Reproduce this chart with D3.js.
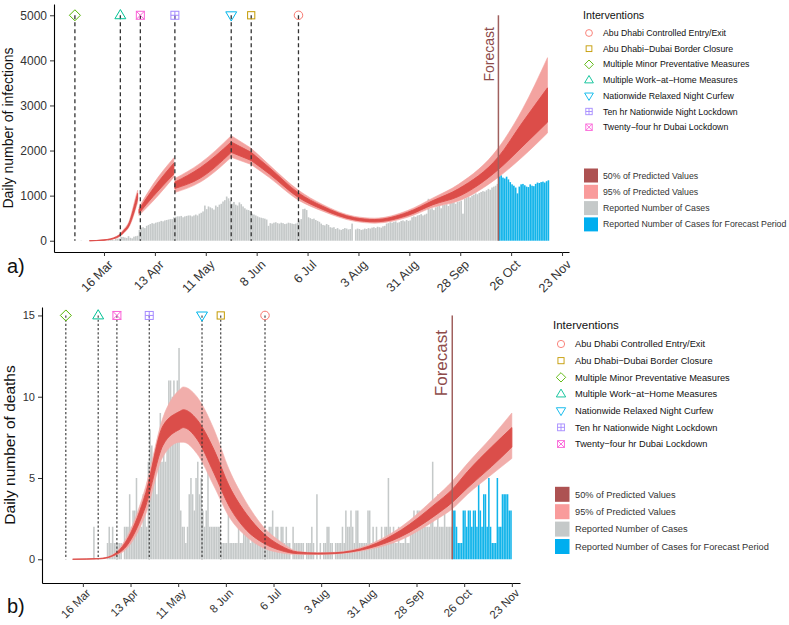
<!DOCTYPE html>
<html><head><meta charset="utf-8">
<script src="https://cdn.jsdelivr.net/npm/d3@7"></script>
<style>
body{margin:0;background:#fff}
svg{display:block}
text{font-family:"Liberation Sans",Arial,Helvetica,sans-serif}
</style></head>
<body><svg id="chart" width="789" height="625"></svg>
<script>
// ---------------- DATA ----------------
const interventionNames = ["Abu Dhabi Controlled Entry/Exit","Abu Dhabi\u2212Dubai Border Closure","Multiple Minor Preventative Measures","Multiple Work\u2212at\u2212Home Measures","Nationwide Relaxed Night Curfew","Ten hr Nationwide Night Lockdown","Twenty\u2212four hr Dubai Lockdown"];
const interventionColors = ["#F8766D","#C49A00","#53B400","#00C094","#00B6EB","#A58AFF","#FB61D7"];
const interventionShapes = ["circle","square","diamond","triangle","triangleDown","squarePlus","squareX"];
const interventionDatesA = ["2020-07-01","2020-06-05","2020-02-29","2020-03-25","2020-05-25","2020-04-24","2020-04-05"];
const interventionDatesB = ["2020-07-01","2020-06-05","2020-03-06","2020-03-25","2020-05-25","2020-04-24","2020-04-05"];

const fillLegendLabels = ["50% of Predicted Values","95% of Predicted Values","Reported Number of Cases","Reported Number of Cases for Forecast Period"];
const fillLegendColors = ["#ad5252","#f99b9b","#c5c9c9","#00aeef"];

const tickDates = ["2020-03-16","2020-04-13","2020-05-11","2020-06-08","2020-07-06","2020-08-03","2020-08-31","2020-09-28","2020-10-26","2020-11-23"];
const tickLabels = ["16 Mar","13 Apr","11 May","8 Jun","6 Jul","3 Aug","31 Aug","28 Sep","26 Oct","23 Nov"];
const infYTicks = [0,1000,2000,3000,4000,5000];
const deathYTicks = [0,5,10,15];

const forecastDate = "2020-10-19";

// daily reported cases starting 1 Mar 2020
const casesStart = "2020-03-01";
const dailyCases = [
 0,0,6,0,0,2,1,15,0,0, 15,0,11,0,14,12,0,15,27,27, 13,45,45,50,85,85,72,63,102,65,53,
 90,100,110,240, 290,300,280,330,350,370,390,380, 400,410,420,440,430,450,460,470,480,480, 520,530,540,540,550,520,540,550,
 560,560,540,560,580,560,600,620,650, 780,700,760,740,720,690,780,750,800,820,870,900,980, 940,880,820,860,800,780,850,810,760,
 720,690,680,660,600, 580,560,540,520,510,500,490,470, 330, 390,380,400,410,390,380,400,390,370,380,400,390,380,370,380,400,
 450,480, 700,710,680, 520,500,480,490,460,440,420, 380,350,340,370,350,300,290,300, 260,280,250,240,260,280,270,250,260,380,0,
 250,270,260,240,250,270,260,280,270,290,300,280,310,300,290,320,330, 380,390,410,400,420,430,400,410,440,450,430,460,440,450,
 520,540,530,560,570,590,560,580,600, 930, 700,720,680,740,760,780,720,790,800,810,770,830,840,850,820,860,870,890, 600, 930,
 950,980,960,1000,1020,1050,1030,1060,1080,1100,1090,1120,1150,1130,1180,1200,1220,1260, 1500,1450,1400,1380,1420,1360,1300,1250,1220,1180,1050,1200,1250,
 1260,1230,1200,1190,1250,1220,1210,1260,1290,1280,1300,1310,1290,1320,1340
];

// daily reported deaths starting 22 Mar 2020
const deathsStart = "2020-03-22";
const dailyDeaths = [
 2, 0,0,0,0,0,0,0,
 1,2,1,2,1,1,1,1,1,0,
 2,2,2,4,2,3,3,5,2,3,2,4,3,2,
 6,8,7,5,6,4,6,9,6,7,6,7,
 11,11,10,11,10,11,13,3,2,2,1,2,
 4,5,4,3,5,6,4,5,3,2,3,6,
 2,2,2,2,2,2,2,1,1,1,1,5,
 1,1,1,1,1,2,1,1,2,3,3,2,1,2,
 2,1,2,2,1,1,2,1,1,2,2,3,
 1,2,2,1,2,2,1,2,1,1,0,2,
 1,1,1,1,1,1,0,1,1,1,2,1,0,4,
 0,1,0,1,1,2,2,1,1,0,1,1,1,1,
 2,1,3,2,2,3,2,1,3,3,1,1,1,1,1,
 3,3,1,2,1,2,1,1,2,1,2,2,5,
 2,1,2,1,1,2,1,1,1,2,1,1,2,2,
 3,2,3,3,2,3,2,2,2,2,3,6,
 2,2,4,2,2,2,3,2,2,2,2,
 3,3,2,1,1,1,3,3,2,3,3,2,
 3,3,2,6,3,2,4,4,2,5,2,1,
 1,1,5,2,2,4,4,4,4,3,3
];

// predicted infections (bands), with model segments
const infDates = ["2020-03-08","2020-03-16","2020-03-23","2020-03-27","2020-03-30","2020-04-01","2020-04-02","2020-04-03T12:00","2020-04-04T06:00","2020-04-12","2020-04-23T10:00","2020-04-24","2020-05-08","2020-05-25","2020-06-05","2020-06-15","2020-07-01","2020-07-14","2020-08-01","2020-08-12","2020-08-30","2020-09-13","2020-09-27","2020-10-19","2020-11-01","2020-11-15"];
const infLo95 = [0,10,60,170,320,520,650,850,560,880,1410,1070,1300,1850,1690,1400,900,660,430,390,520,740,880,1410,1850,2390];
const infLo50 = [0,12,70,190,350,570,700,930,610,980,1480,1160,1390,1960,1780,1480,960,700,460,420,560,800,980,1580,2080,2630];
const infHi50 = [0,18,90,230,410,670,820,1050,690,1150,1720,1300,1620,2190,1960,1620,1060,770,510,470,630,890,1150,1860,2610,3390];
const infHi95 = [0,20,100,260,450,740,900,1120,740,1250,1840,1380,1720,2330,2050,1680,1120,810,540,500,670,950,1250,2060,2900,4060];
const infSegments = [[0,7],[8,10],[11,13],[13,14],[14,25]];

// predicted deaths (bands)
const deathDates = ["2020-03-10","2020-03-26","2020-04-02","2020-04-12","2020-04-22","2020-05-02","2020-05-12","2020-05-14","2020-05-22","2020-06-01","2020-06-10","2020-06-20","2020-06-30","2020-07-10","2020-07-20","2020-08-01","2020-08-11","2020-08-31","2020-09-19","2020-10-09","2020-10-19","2020-10-28","2020-11-11","2020-11-23"];
const deathLo95 = [0,0.02,0.15,0.8,2.8,6.3,7.2,7.2,6.5,4.5,2.6,1.4,0.7,0.4,0.3,0.3,0.33,0.6,1.2,2.4,3.1,4.0,5.2,6.2];
const deathLo50 = [0,0.03,0.18,1.0,3.3,7.0,8.0,8.1,7.4,5.3,3.25,1.8,1.0,0.55,0.35,0.32,0.35,0.68,1.4,2.7,3.5,4.4,5.7,6.9];
const deathHi50 = [0,0.05,0.22,1.4,4.1,8.2,9.1,9.2,8.6,6.75,4.5,2.8,1.6,0.85,0.45,0.38,0.4,0.8,1.8,3.4,4.3,5.4,6.9,8.1];
const deathHi95 = [0,0.06,0.26,1.6,4.5,8.7,10.45,10.6,10.0,8.0,5.5,3.5,2.0,1.1,0.5,0.4,0.43,0.9,2.0,3.8,4.8,5.9,7.5,9.0];

// ---------------- DRAWING ----------------
const DAY = 864e5;
const pd = s => new Date((s.length > 10 ? s : s + "T00:00") + "Z");
const svg = d3.select("#chart");

function shapePath(shape, s) {
  const h = s / 2;
  switch (shape) {
    case "diamond": return `M0,${-h*1.1}L${h*1.1},0L0,${h*1.1}L${-h*1.1},0Z`;
    case "triangle": { const r = h*1.15; return `M0,${-r}L${r*0.95},${r*0.6}L${-r*0.95},${r*0.6}Z`; }
    case "triangleDown": { const r = h*1.15; return `M0,${r}L${r*0.95},${-r*0.6}L${-r*0.95},${-r*0.6}Z`; }
    default: return null;
  }
}
function drawMarker(g, shape, color, s, sw) {
  const h = s / 2;
  const st = {fill:"none", stroke:color, "stroke-width":sw};
  const app = (el, attrs) => { Object.entries(Object.assign({}, st, attrs)).forEach(([k,v]) => el.attr(k,v)); return el; };
  if (shape === "circle") app(g.append("circle"), {r: h*0.85});
  else if (shape === "square") app(g.append("rect"), {x:-h*0.72, y:-h*0.72, width:h*1.44, height:h*1.44});
  else if (shape === "squarePlus" || shape === "squareX") {
    const q = h*0.8;
    app(g.append("rect"), {x:-q, y:-q, width:2*q, height:2*q});
    if (shape === "squarePlus") app(g.append("path"), {d:`M0,${-q}V${q}M${-q},0H${q}`});
    else app(g.append("path"), {d:`M${-q},${-q}L${q},${q}M${q},${-q}L${-q},${q}`});
  } else app(g.append("path"), {d: shapePath(shape, s)});
}

function panel(cfg) {
  const x = d3.scaleUtc().domain(cfg.xDomain).range(cfg.xRange);
  const y = d3.scaleLinear().domain(cfg.yDomain).range(cfg.yRange);
  const g = svg.append("g");

  // bars
  const start = pd(cfg.barStart), fc = pd(forecastDate);
  const bars = cfg.bars.map((v, i) => ({d: new Date(start.getTime() + i*DAY), v}));
  g.append("g").selectAll("rect").data(bars).join("rect")
    .attr("x", d => x(new Date(d.d.getTime() + 0.05*DAY)))
    .attr("width", d => x(new Date(d.d.getTime() + 0.95*DAY)) - x(new Date(d.d.getTime() + 0.05*DAY)))
    .attr("y", d => y(d.v))
    .attr("height", d => Math.max(0, y(0) - y(d.v)))
    .attr("fill", d => d.d >= fc ? cfg.blue : cfg.grey);

  // bands
  const pts = cfg.bandDates.map((s, i) => ({d: pd(s), lo95: cfg.lo95[i], lo50: cfg.lo50[i], hi50: cfg.hi50[i], hi95: cfg.hi95[i]}));
  const a95 = d3.area().x(d => x(d.d)).y0(d => y(d.lo95)).y1(d => y(d.hi95)).curve(d3.curveMonotoneX);
  const a50 = d3.area().x(d => x(d.d)).y0(d => y(d.lo50)).y1(d => y(d.hi50)).curve(d3.curveMonotoneX);
  cfg.segments.forEach(([i0, i1]) => {
    const seg = pts.slice(i0, i1 + 1);
    g.append("path").attr("d", a95(seg)).attr("fill", cfg.c95).attr("stroke", cfg.c95).attr("stroke-width", 0.6);
  });
  cfg.segments.forEach(([i0, i1]) => {
    const seg = pts.slice(i0, i1 + 1);
    g.append("path").attr("d", a50(seg)).attr("fill", cfg.c50).attr("stroke", cfg.c50).attr("stroke-width", 0.9);
  });

  // intervention lines + markers
  const top = cfg.yTicks[cfg.yTicks.length - 1];
  cfg.interventionDates.forEach((s, i) => {
    const xx = x(pd(s));
    g.append("line").attr("x1", xx).attr("x2", xx).attr("y1", y(top)).attr("y2", y(0))
      .attr("stroke", "#333").attr("stroke-width", cfg.dashW).attr("stroke-dasharray", cfg.dash);
  });
  cfg.interventionDates.forEach((s, i) => {
    const m = g.append("g").attr("transform", `translate(${x(pd(s))},${y(top)})`);
    drawMarker(m, interventionShapes[i], interventionColors[i], cfg.markerSize, 1);
  });

  // forecast line + label
  const fx = x(fc);
  g.append("line").attr("x1", fx).attr("x2", fx).attr("y1", y(top)).attr("y2", y(0))
    .attr("stroke", "#a0605e").attr("stroke-width", 1.5);
  g.append("text").attr("transform", `translate(${fx - cfg.fcOffset},${cfg.fcTextY}) rotate(-90)`)
    .attr("text-anchor", "end").attr("font-size", cfg.fcSize).attr("fill", "#8e4b4a").text("Forecast");

  // axes
  const xa = g.append("g").attr("transform", `translate(0,${cfg.yRange[0]})`)
    .call(d3.axisBottom(x).tickValues(tickDates.map(pd)).tickFormat((d, i) => tickLabels[i]).tickSize(4).tickSizeOuter(0));
  xa.select(".domain").attr("stroke", "#000").attr("stroke-width", 1.1);
  xa.selectAll(".tick line").attr("stroke", "#333");
  xa.selectAll(".tick text").attr("font-size", cfg.xtSize).attr("fill", "#333")
    .attr("text-anchor", "end").attr("dy", "0.71em").attr("y", 0)
    .attr("transform", `translate(${cfg.xtDx},${cfg.xtDy}) rotate(-45)`);
  const ya = g.append("g").attr("transform", `translate(${cfg.xRange[0]},0)`)
    .call(d3.axisLeft(y).tickValues(cfg.yTicks).tickFormat(d3.format("d")).tickSize(4).tickSizeOuter(0).tickPadding(3));
  ya.select(".domain").attr("stroke", "#000").attr("stroke-width", 1.1);
  ya.selectAll(".tick line").attr("stroke", "#333");
  ya.selectAll(".tick text").attr("font-size", cfg.ytSize).attr("fill", "#333");

  // axis title + panel letter
  g.append("text").attr("transform", `translate(${cfg.ytitleX},${(cfg.yRange[0] + cfg.yRange[1]) / 2}) rotate(-90)`)
    .attr("text-anchor", "middle").attr("font-size", cfg.ytitleSize).attr("fill", "#111").text(cfg.ytitle);
  g.append("text").attr("x", 7).attr("y", cfg.letterY).attr("font-size", 20).attr("fill", "#111").text(cfg.letter);

  // legend
  const L = cfg.legend;
  const lg = svg.append("g");
  lg.append("text").attr("x", L.titleX).attr("y", L.titleY).attr("font-size", L.titleSize).attr("fill", "#111").text("Interventions");
  interventionNames.forEach((n, i) => {
    const yy = L.rowY0 + i * L.rowStep;
    const m = lg.append("g").attr("transform", `translate(${L.symX},${yy})`);
    drawMarker(m, interventionShapes[i], interventionColors[i], L.symSize, 0.9);
    lg.append("text").attr("x", L.textX).attr("y", yy).attr("dy", "0.35em").attr("font-size", L.textSize).attr("fill", "#111").text(n);
  });
  fillLegendLabels.forEach((n, i) => {
    const yy = L.fillY0 + i * L.fillStep;
    lg.append("rect").attr("x", L.rectX).attr("y", yy - L.rectH / 2).attr("width", L.rectW).attr("height", L.rectH).attr("fill", fillLegendColors[i]);
    lg.append("text").attr("x", L.textX).attr("y", yy).attr("dy", "0.35em").attr("font-size", L.textSize).attr("fill", "#333").text(n);
  });
}

panel({
  xDomain: [pd("2020-02-17T12:00"), pd("2020-11-26T20:00")], xRange: [54, 569],
  yDomain: [-250, 5250], yRange: [252, 4], yTicks: infYTicks,
  bars: dailyCases, barStart: casesStart, grey: "#c5c9c9", blue: "#12b4ea",
  bandDates: infDates, lo95: infLo95, lo50: infLo50, hi50: infHi50, hi95: infHi95, segments: infSegments,
  c95: "#f3a3a0", c50: "#dc4d49",
  interventionDates: interventionDatesA, dash: "4,3", dashW: 1.3, markerSize: 10,
  fcOffset: 4, fcTextY: 27, fcSize: 14,
  xtSize: 12.5, xtDx: 3, xtDy: 7, ytSize: 12, ytitle: "Daily number of infections", ytitleX: 13, ytitleSize: 14,
  letter: "a)", letterY: 273,
  legend: {titleX: 583, titleY: 19, titleSize: 10.7, rowY0: 33, rowStep: 15.7, symX: 589, symSize: 8, textX: 603, textSize: 8.75,
           fillY0: 175.5, fillStep: 16.3, rectX: 584, rectW: 14, rectH: 14}
});

panel({
  xDomain: [pd("2020-02-21T00:00"), pd("2020-11-27T19:00")], xRange: [42, 520],
  yDomain: [-1.46, 15.52], yRange: [583, 307], yTicks: deathYTicks,
  bars: dailyDeaths, barStart: deathsStart, grey: "#c5c9c9", blue: "#12b4ea",
  bandDates: deathDates, lo95: deathLo95, lo50: deathLo50, hi50: deathHi50, hi95: deathHi95, segments: [[0, deathDates.length - 1]],
  c95: "#f1aeab", c50: "#db4e4a",
  interventionDates: interventionDatesB, dash: "2.2,2", dashW: 1.1, markerSize: 10,
  fcOffset: 5, fcTextY: 330, fcSize: 17,
  xtSize: 11.5, xtDx: 2, xtDy: 5, ytSize: 11, ytitle: "Daily number of deaths", ytitleX: 15, ytitleSize: 15.5,
  letter: "b)", letterY: 613,
  legend: {titleX: 553, titleY: 329, titleSize: 11.5, rowY0: 344, rowStep: 16.67, symX: 561, symSize: 8.5, textX: 575, textSize: 9.25,
           fillY0: 494.3, fillStep: 17.4, rectX: 555, rectW: 14.5, rectH: 15}
});
</script>
</body></html>
